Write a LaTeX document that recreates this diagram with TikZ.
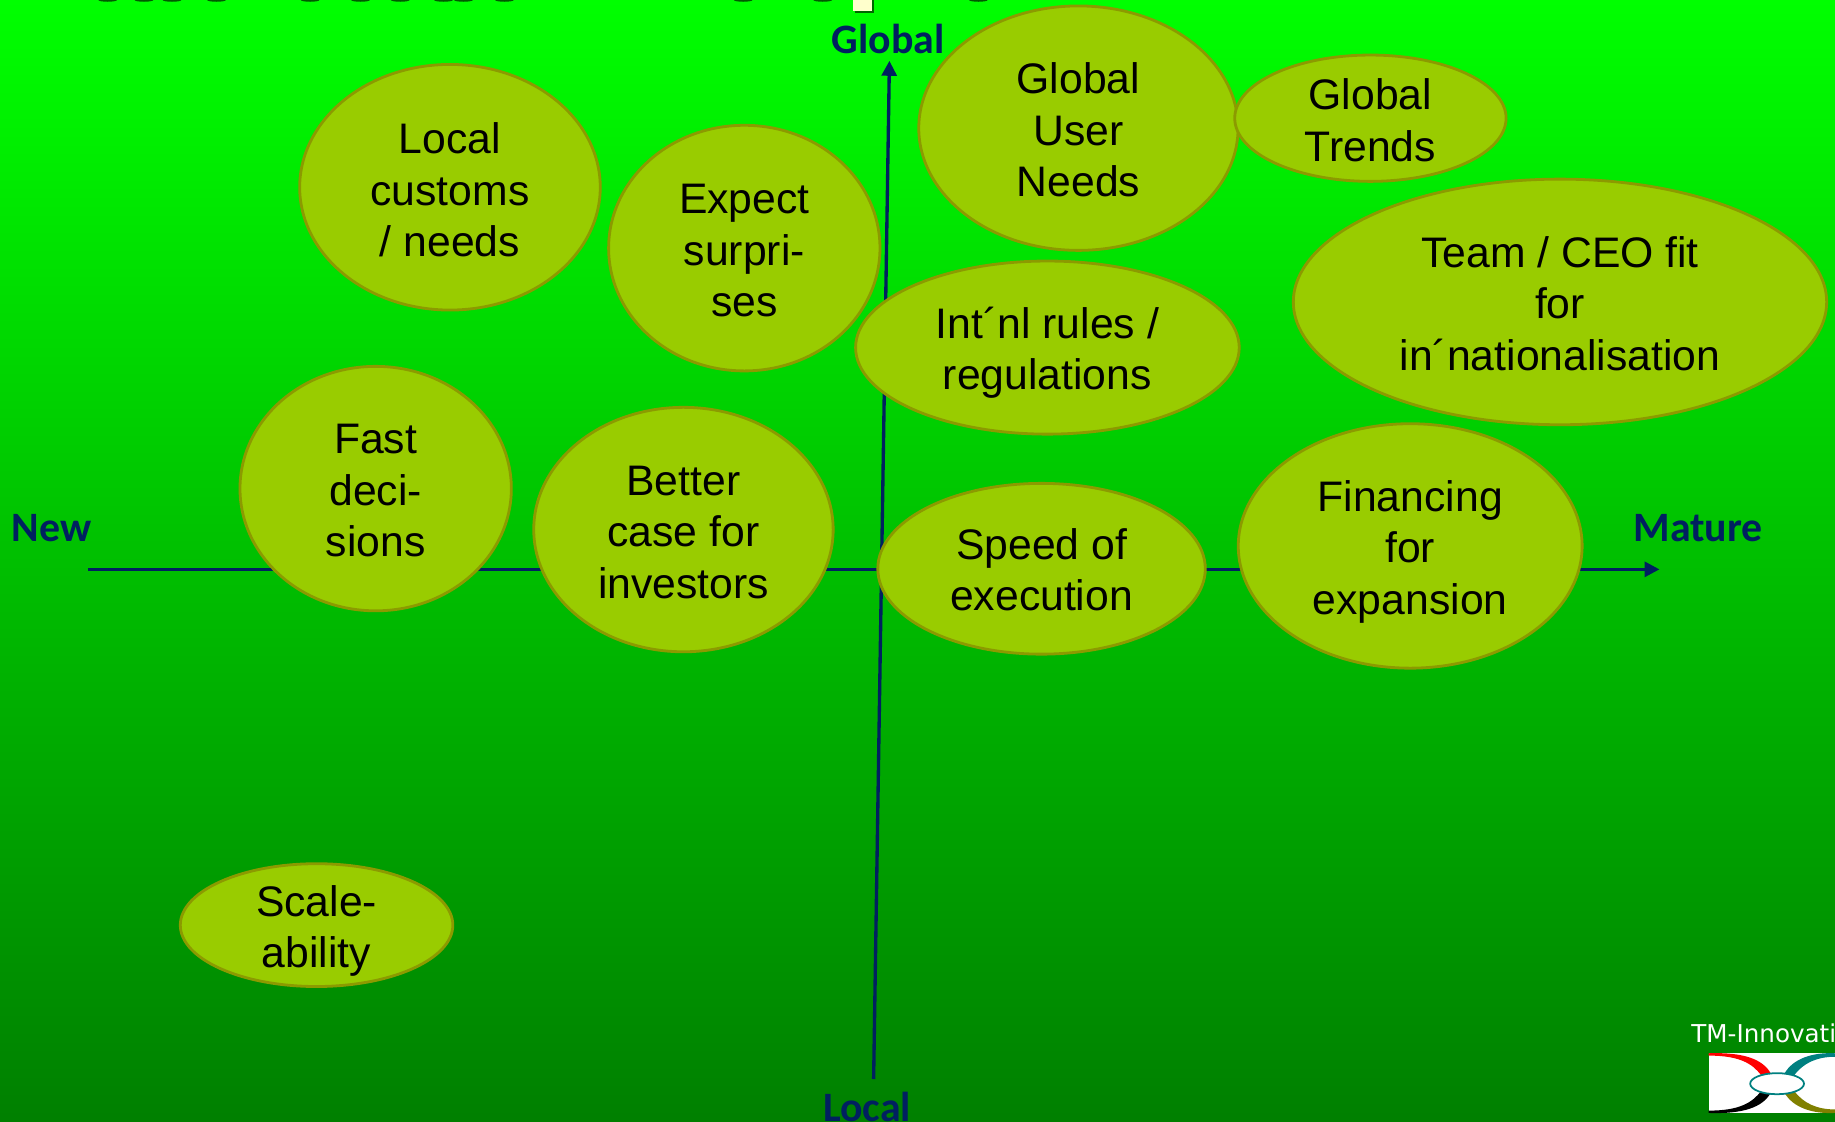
\documentclass[tikz,border=0pt]{standalone}
\usepackage{fontspec}
\setmainfont{Liberation Sans}
\newfontfamily\axisfont{Carlito}
\newfontfamily\logofont{DejaVu Sans}
\definecolor{axisblue}{HTML}{002060}
\definecolor{bubblefill}{HTML}{99CC00}
\definecolor{bubbleline}{HTML}{8C9A00}
\definecolor{logoteal}{HTML}{008080}
\definecolor{logoolive}{HTML}{808000}
\definecolor{notecream}{HTML}{FFFFCC}
\usetikzlibrary{shapes.geometric, arrows.meta}
\begin{document}
\begin{tikzpicture}[x=0.023406cm, y=-0.023406cm,
	bubble/.style={ellipse, draw=bubbleline, fill=bubblefill, line width=1.6pt, inner sep=0pt, align=center, text depth=0pt, text height=#1, font=\fontsize{24.3}{29.3}\selectfont},
	axislabel/.style={text=axisblue, font=\axisfont\bfseries\fontsize{23.8}{28}\selectfont},
	axisline/.style={draw=axisblue, line width=1.9pt, -{Triangle[length=8.5pt, width=8.5pt]}}]
	\useasboundingbox (0, 0) rectangle (1568, 958);
	\shade[top color=green, bottom color=green!50!black] (0, 0) rectangle (1568, 958);
	\foreach \blobx in {92, 123, 147, 185, 265, 308, 342, 379, 396, 431, 635, 703, 836}
		\fill[black!65!green] (\blobx, 0) ellipse (8 and 1.5);
	\fill[black!60!green] (730.5, 0) rectangle (746.5, 11);
	\fill[notecream] (729, 0) rectangle (745, 9.5);

	% axes
	\coordinate (newend) at (75, 486.5);
	\coordinate (matureend) at (1418, 486.5);
	\coordinate (localend) at (746.5, 922);
	\coordinate (globalend) at (760, 52);
	\draw[axisline] (newend) -- (matureend);
	\draw[axisline] (localend) -- (globalend);
	\node[axislabel] (global) at (759, 33) {Global};
	\node[axislabel] (local) at (741, 946) {Local};
	\node[axislabel] (new) at (44, 451) {New};
	\node[axislabel] (mature) at (1451, 451) {Mature};

	% bubbles
	\node[bubble=78pt, minimum width=273*0.6656pt, minimum height=209*0.6656pt] (userneeds) at (921.5, 109.5) {Global\\User\\Needs};
	\node[bubble=49pt, minimum width=232*0.6656pt, minimum height=108*0.6656pt] (trends) at (1171, 101) {Global\\Trends};
	\node[bubble=79pt, minimum width=257*0.6656pt, minimum height=210*0.6656pt] (customs) at (384.5, 160) {Local\\customs\\/ needs};
	\node[bubble=78pt, minimum width=232*0.6656pt, minimum height=210*0.6656pt] (surprises) at (636, 212) {Expect\\surpri-\\ses};
	\node[bubble=48pt, minimum width=328*0.6656pt, minimum height=148*0.6656pt] (rules) at (895, 297) {Int´nl rules /\\regulations};
	\node[bubble=78pt, minimum width=456*0.6656pt, minimum height=210*0.6656pt] (teamfit) at (1333, 258) {Team / CEO fit\\for\\in´nationalisation};
	\node[bubble=77.5pt, minimum width=232*0.6656pt, minimum height=209*0.6656pt] (decisions) at (321, 417.5) {Fast\\deci-\\sions};
	\node[bubble=78pt, minimum width=256*0.6656pt, minimum height=209*0.6656pt] (investors) at (584, 452.5) {Better\\case for\\investors};
	\node[bubble=48pt, minimum width=280*0.6656pt, minimum height=146*0.6656pt] (execution) at (890, 486) {Speed of\\execution};
	\node[bubble=78pt, minimum width=294*0.6656pt, minimum height=209*0.6656pt] (financing) at (1205, 466.5) {Financing\\for\\expansion};
	\node[bubble=48.5pt, minimum width=233*0.6656pt, minimum height=105*0.6656pt] (scalability) at (270.5, 790.5) {Scale-\\ability};

	% logo
	\node[anchor=west, inner sep=0pt, text=white, font=\logofont\fontsize{14}{16}\selectfont] (company) at (1445, 883) {TM-Innovati};
	\fill[white] (1460, 900) rectangle (1568, 951);
	\fill[red] (1460, 900) .. controls (1490, 899) and (1506, 905) .. (1513, 917) -- (1505, 919) .. controls (1497, 908) and (1485, 902) .. (1460, 902) -- cycle;
	\fill[black] (1460, 951) .. controls (1490, 952) and (1506, 946) .. (1513, 934) -- (1505, 932) .. controls (1497, 943) and (1485, 949) .. (1460, 949) -- cycle;
	\fill[logoteal] (1568, 900) .. controls (1548, 899) and (1532, 905) .. (1525, 917) -- (1533, 919) .. controls (1541, 908) and (1553, 903) .. (1568, 903) -- cycle;
	\fill[logoolive] (1568, 951) .. controls (1548, 952) and (1532, 946) .. (1525, 934) -- (1533, 932) .. controls (1541, 943) and (1553, 948) .. (1568, 948) -- cycle;
	\node[ellipse, draw=logoteal, fill=white, line width=1pt, minimum width=46*0.6656pt, minimum height=18*0.6656pt, inner sep=0pt] (hub) at (1518.5, 926) {};
\end{tikzpicture}
\end{document}
